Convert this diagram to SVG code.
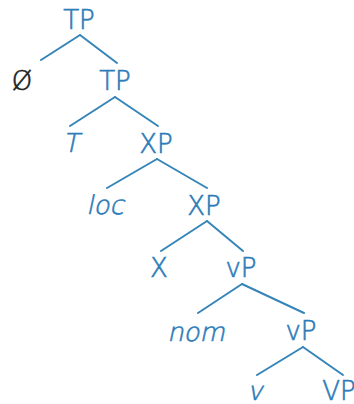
<svg xmlns="http://www.w3.org/2000/svg" width="354" height="404" viewBox="0 0 354 404">
  <style>
    .lbl { font-family: "DejaVu Sans", "Verdana", sans-serif; font-size: 26px; font-weight: 200; fill: #2c7cb8; stroke: #2c7cb8; stroke-width: 0.6; text-anchor: middle; }
    .null { fill: #1e1e1e; stroke: #1e1e1e; }
    .edge { stroke: #3585b8; stroke-width: 2; fill: none; stroke-linecap: round; }
  </style>
  <rect width="354" height="404" fill="#ffffff"/>
  <g id="edges">
    <line class="edge" x1="80" y1="35" x2="41" y2="60"/>
    <line class="edge" x1="80" y1="35" x2="117" y2="63"/>
    <line class="edge" x1="115" y1="97" x2="70" y2="126"/>
    <line class="edge" x1="115" y1="97" x2="158" y2="126"/>
    <line class="edge" x1="157" y1="159" x2="107" y2="188"/>
    <line class="edge" x1="157" y1="159" x2="207" y2="188"/>
    <line class="edge" x1="207" y1="221" x2="161" y2="251"/>
    <line class="edge" x1="207" y1="221" x2="243" y2="251"/>
    <line class="edge" x1="242" y1="284" x2="198" y2="313"/>
    <line class="edge" x1="242" y1="284" x2="304" y2="313"/>
    <line class="edge" x1="303" y1="347" x2="257" y2="375"/>
    <line class="edge" x1="303" y1="347" x2="343" y2="375"/>
  </g>
  <g id="tp1"><text class="lbl" x="79" y="29">TP</text></g>
  <g id="null"><text class="lbl null" x="22" y="90">Ø</text></g>
  <g id="tp2"><text class="lbl" x="115" y="90">TP</text></g>
  <!-- slanted labels: the light face has no italic, so skew it -->
  <g id="t" transform="translate(71,152) skewX(-12)"><text class="lbl" x="0" y="0">T</text></g>
  <g id="xp1"><text class="lbl" x="156" y="153">XP</text></g>
  <g id="loc" transform="translate(105,214) skewX(-12)"><text class="lbl" x="0" y="0">loc</text></g>
  <g id="xp2"><text class="lbl" x="204" y="215">XP</text></g>
  <g id="x"><text class="lbl" x="159" y="277">X</text></g>
  <g id="vp1"><text class="lbl" x="241" y="277">vP</text></g>
  <g id="nom" transform="translate(196,341) skewX(-12)"><text class="lbl" x="0" y="0">nom</text></g>
  <g id="vp2"><text class="lbl" x="301" y="340">vP</text></g>
  <g id="v" transform="translate(255,400) skewX(-12)"><text class="lbl" x="0" y="0">v</text></g>
  <g id="vp3"><text class="lbl" x="339" y="400">VP</text></g>
</svg>
